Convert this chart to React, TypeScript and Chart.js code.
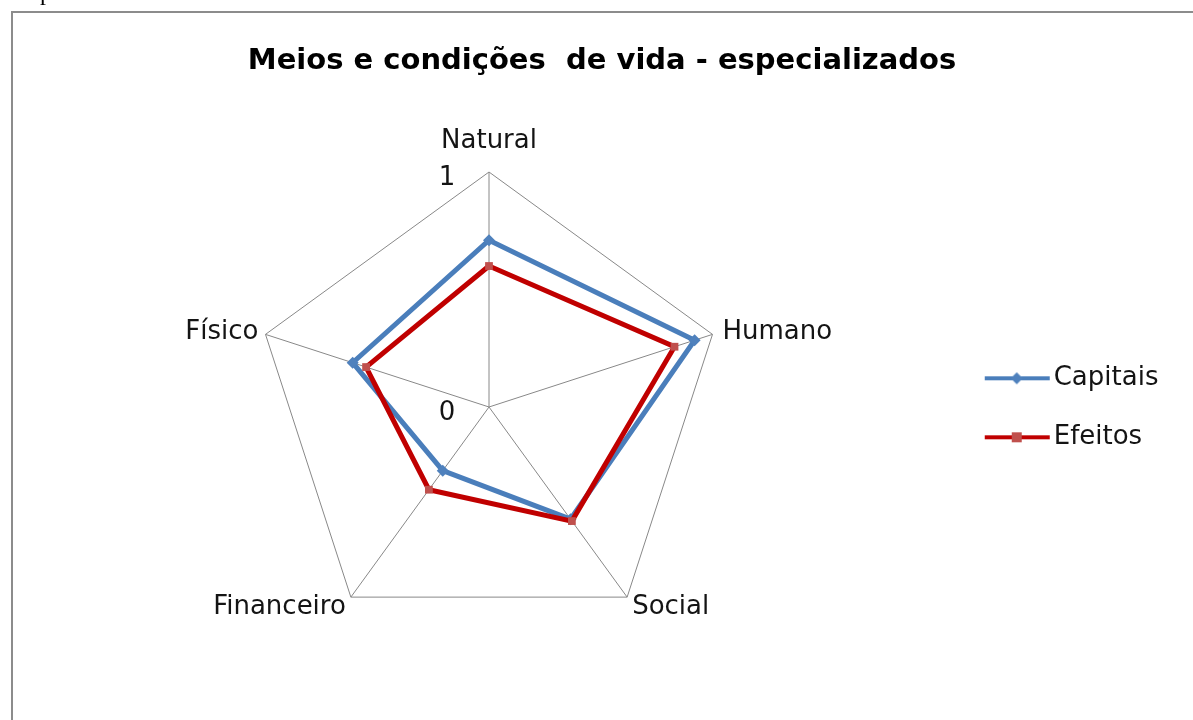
import React, { useEffect, useRef } from "react";
import { Chart, registerables } from "chart.js";

Chart.register(...registerables);

const chartTitle = "Meios e condições  de vida - especializados";
const categories = ["Natural", "Humano", "Social", "Financeiro", "Físico"];
const seriesNames = ["Capitais", "Efeitos"];
const capitais = [0.71, 0.92, 0.59, 0.335, 0.61];
const efeitos = [0.6, 0.83, 0.6, 0.435, 0.55];
const tickLabels = ["0", "1"];

const FONT = "'DejaVu Sans', 'Open Sans', sans-serif";
const BLUE_LINE = "#4A7EBB";
const BLUE_MARK = "#4F81BD";
const RED_LINE = "#C00000";
const RED_MARK = "#C0504D";
const GRID = "#888888";
const TEXT = "#141414";

function makeIcon(line: string, mark: string, kind: "diamond" | "square") {
  const c = document.createElement("canvas");
  c.width = 77;
  c.height = 16;
  const ctx = c.getContext("2d")!;
  ctx.strokeStyle = line;
  ctx.lineWidth = 4;
  ctx.beginPath();
  ctx.moveTo(7, 8);
  ctx.lineTo(72, 8);
  ctx.stroke();
  ctx.fillStyle = mark;
  if (kind === "diamond") {
    ctx.beginPath();
    ctx.moveTo(39, 2);
    ctx.lineTo(45, 8);
    ctx.lineTo(39, 14);
    ctx.lineTo(33, 8);
    ctx.closePath();
    ctx.fill();
  } else {
    ctx.fillRect(34, 3, 10, 10);
  }
  return c;
}

// label placement relative to axis end: [dx, dy(baseline), align]
const labelPlacement: Array<[number, number, CanvasTextAlign]> = [
  [0, -24, "center"],
  [10, 5, "left"],
  [5, 17, "left"],
  [-5, 17, "right"],
  [-7, 5, "right"],
];

const labelsPlugin = {
  id: "customLabels",
  afterDraw(chart: any) {
    const scale = chart.scales.r;
    const ctx = chart.ctx;
    ctx.save();
    ctx.fillStyle = TEXT;
    ctx.font = `26px ${FONT}`;
    ctx.textBaseline = "alphabetic";
    categories.forEach((label, i) => {
      const p = scale.getPointPosition(i, scale.drawingArea);
      const [dx, dy, align] = labelPlacement[i];
      ctx.textAlign = align;
      ctx.fillText(label, p.x + dx, p.y + dy);
    });
    ctx.textAlign = "center";
    tickLabels.forEach((t) => {
      const v = Number(t);
      const d = scale.getDistanceFromCenterForValue(v);
      ctx.fillText(t, scale.xCenter - 42, scale.yCenter - d + 12.7);
    });
    ctx.restore();
  },
};

export default function App() {
  const ref = useRef<HTMLCanvasElement>(null);
  useEffect(() => {
    const icons = [
      makeIcon(BLUE_LINE, BLUE_MARK, "diamond"),
      makeIcon(RED_LINE, RED_MARK, "square"),
    ];
    const chart = new Chart(ref.current!, {
      type: "radar",
      data: {
        labels: categories,
        datasets: [
          {
            label: seriesNames[0],
            data: capitais,
            borderColor: BLUE_LINE,
            backgroundColor: BLUE_MARK,
            borderWidth: 5,
            fill: false,
            pointStyle: "rectRot",
            pointRadius: 6,
            pointBackgroundColor: BLUE_MARK,
            pointBorderWidth: 0,
            order: 1,
          },
          {
            label: seriesNames[1],
            data: efeitos,
            borderColor: RED_LINE,
            backgroundColor: RED_MARK,
            borderWidth: 5,
            fill: false,
            pointStyle: "rect",
            pointRadius: 5.5,
            pointBackgroundColor: RED_MARK,
            pointBorderWidth: 0,
            order: 0,
          },
        ],
      },
      options: {
        animation: false,
        responsive: true,
        maintainAspectRatio: false,
        layout: { padding: { left: 7, right: 9, top: 0, bottom: 77 } },
        plugins: {
          title: {
            display: true,
            text: chartTitle,
            color: "#000",
            font: { family: FONT, size: 29, weight: "bold" },
            padding: { top: 30.6, bottom: 94.2 },
          },
          legend: {
            position: "right",
            fullSize: false,
            labels: {
              usePointStyle: true,
              pointStyleWidth: 49,
              padding: 33,
              color: TEXT,
              font: { family: FONT, size: 26 },
              generateLabels: (c: any) =>
                c.data.datasets.map((ds: any, i: number) => ({
                  text: ds.label + "\u2009\u2009\u2009",
                  pointStyle: icons[i],
                  fillStyle: ds.backgroundColor,
                  strokeStyle: ds.borderColor,
                  lineWidth: 0,
                  hidden: false,
                  datasetIndex: i,
                  fontColor: TEXT,
                })),
            },
          },
          tooltip: { enabled: false },
        },
        scales: {
          r: {
            min: 0,
            max: 1,
            ticks: { display: false, stepSize: 1 },
            pointLabels: { display: false },
            grid: { color: GRID, lineWidth: 1 },
            angleLines: { color: GRID, lineWidth: 1 },
          },
        },
      },
      plugins: [labelsPlugin],
    });
    return () => chart.destroy();
  }, []);

  return (
    <>
      <div
        style={{
          position: "fixed",
          left: 40,
          top: -21,
          fontFamily: "'Liberation Serif', serif",
          fontSize: 24,
          lineHeight: "normal",
          color: "#000",
        }}
      >
        p
      </div>
      <div
        style={{
          position: "fixed",
          left: 11,
          top: 11,
          width: 1200,
          height: 720,
          border: "2px solid #8C8C8C",
          background: "#fff",
        }}
      >
        <div style={{ position: "relative", width: 1180, height: 707 }}>
          <canvas ref={ref} />
        </div>
      </div>
    </>
  );
}
